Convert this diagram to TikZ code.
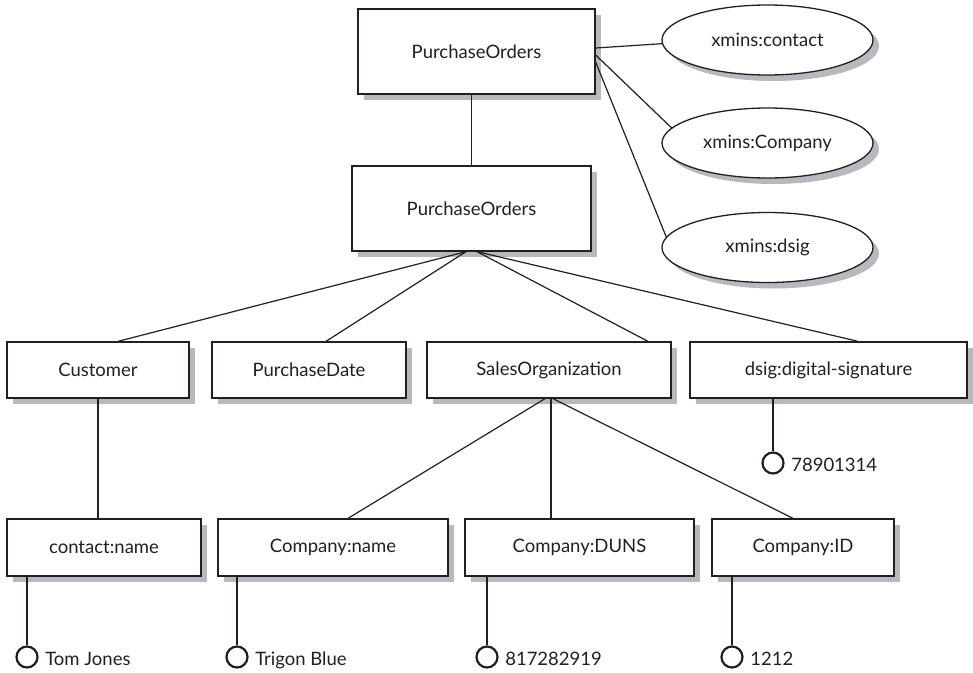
\documentclass[tikz,border=0pt]{standalone}
\usepackage{fontspec}
\setmainfont{Lato}
\usetikzlibrary{shadows,shapes.geometric}
\definecolor{ink}{RGB}{35,31,32}
\definecolor{shade}{RGB}{184,184,190}
\begin{document}
\begin{tikzpicture}[x=1pt,y=-1pt,
  font=\fontsize{18.5}{21}\selectfont,
  base/.style={draw=ink,line width=1.3pt,fill=white,inner sep=0pt,text=ink,
    drop shadow={shadow xshift=6pt,shadow yshift=-6pt,fill=shade,opacity=1}},
  box/.style={base,rectangle},
  tag/.style={base,ellipse,minimum width=211pt,minimum height=70pt},
  link/.style={draw=ink,line width=1.2pt},
  stem/.style={draw=ink,line width=1.4pt},
  leaf/.style={circle,draw=ink,line width=2.2pt,minimum size=21pt,inner sep=0pt},
  value/.style={anchor=base west,inner sep=0pt,text=ink},
]
\fill[white] (0,0) rectangle (973,672);
\useasboundingbox (0,0) rectangle (973,672);

% root elements
\node[box,minimum width=237pt,minimum height=85pt] (po1) at (476.5,51.5) {PurchaseOrders};
\node[box,minimum width=239pt,minimum height=85pt] (po2) at (471.5,208.5) {PurchaseOrders};

% namespace declarations
\node[tag] (xc)  at (767.5,40)    {xmins:contact};
\node[tag] (xco) at (767.5,143)   {xmins:Company};
\node[tag] (xd)  at (767.5,247.5) {xmins:dsig};

% first level children
\node[box,minimum width=182pt,minimum height=56pt] (cust)  at (98,370)    {Customer};
\node[box,minimum width=194pt,minimum height=56pt] (pdate) at (309,370)   {PurchaseDate};
\node[box,minimum width=244pt,minimum height=56pt] (sales) at (549,370)   {SalesOrganization};
\node[box,minimum width=277pt,minimum height=56pt] (dsig)  at (828.5,370) {dsig:digital-signature};

% second level children
\node[box,minimum width=194pt,minimum height=57pt] (cname)  at (104,547.5)   {contact:name};
\node[box,minimum width=230pt,minimum height=57pt] (coname) at (333,547.5)   {Company:name};
\node[box,minimum width=229pt,minimum height=57pt] (duns)   at (579.5,547.5) {Company:DUNS};
\node[box,minimum width=182pt,minimum height=57pt] (cid)    at (803,547.5)   {Company:ID};

% text values
\node[leaf] (l1) at (27,657)  {};
\node[leaf] (l2) at (237,657) {};
\node[leaf] (l3) at (487,657) {};
\node[leaf] (l4) at (732,657) {};
\node[leaf] (l5) at (773,463) {};
\node[value] (v1) at ([xshift=6.5pt,yshift=-8pt]l1.east) {Tom Jones};
\node[value] (v2) at ([xshift=6.5pt,yshift=-8pt]l2.east) {Trigon Blue};
\node[value] (v3) at ([xshift=6.5pt,yshift=-8pt]l3.east) {817282919};
\node[value] (v4) at ([xshift=6.5pt,yshift=-8pt]l4.east) {1212};
\node[value] (v5) at ([xshift=6.5pt,yshift=-8pt]l5.east) {78901314};

% connectors
\draw[link] (po1.south -| po2.north) -- (po2.north);
\draw[link] ([yshift=3.5pt]po1.east) -- (xc.182);
\draw[link] ([yshift=-3.5pt]po1.east) -- (xco.171);
\draw[link] ([yshift=-10.5pt]po1.east) -- (xd.174);

\draw[link] ([xshift=-5.5pt]po2.south) -- ([xshift=20pt]cust.north);
\draw[link] ([xshift=-5.5pt]po2.south) -- ([xshift=17pt]pdate.north);
\draw[link] ([xshift=5.5pt]po2.south) -- ([xshift=99pt]sales.north);
\draw[link] ([xshift=5.5pt]po2.south) -- ([xshift=29.5pt]dsig.north);

\draw[link] (cust.south) -- (cust.south |- cname.north);
\coordinate (sv) at ([xshift=2pt]sales.south);
\draw[link] ([xshift=-4pt]sales.south) -- ([xshift=15pt]coname.north);
\draw[link] (sv) -- (sv |- duns.north);
\draw[link] ([xshift=4pt]sales.south) -- ([xshift=-10pt]cid.north);

\draw[stem] (l1.north) -- (l1.north |- cname.south);
\draw[stem] (l2.north) -- (l2.north |- coname.south);
\draw[stem] (l3.north) -- (l3.north |- duns.south);
\draw[stem] (l4.north) -- (l4.north |- cid.south);
\draw[stem] (l5.north) -- (l5.north |- dsig.south);
\end{tikzpicture}
\end{document}
